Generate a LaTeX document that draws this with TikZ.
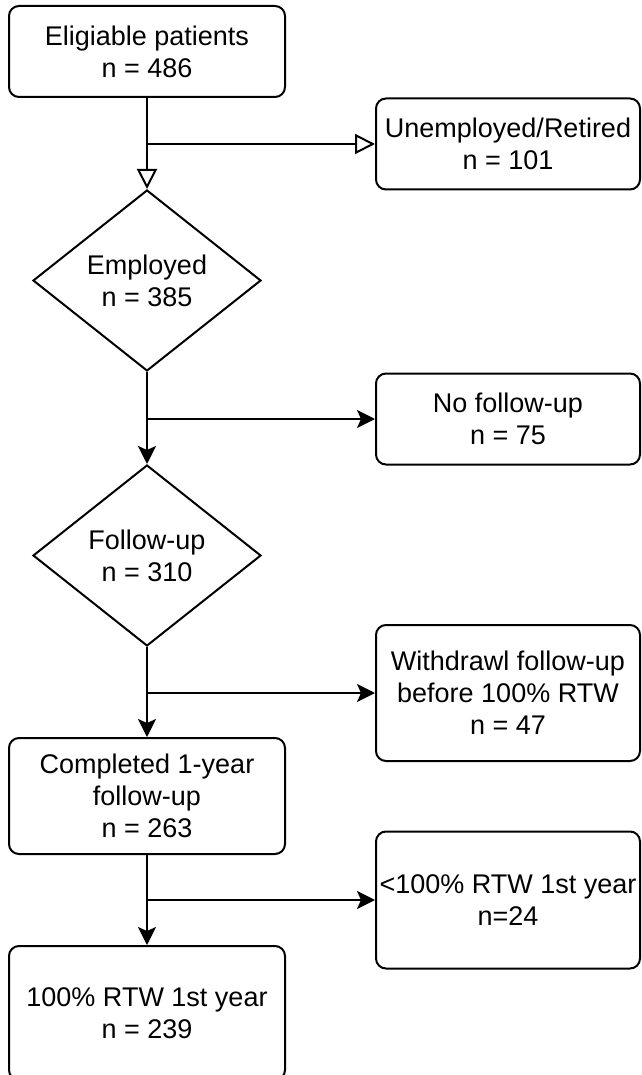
\documentclass[tikz,border=0pt]{standalone}
\usepackage{fontspec}
\setmainfont{Liberation Sans}
\usetikzlibrary{arrows.meta,positioning,shapes.geometric}

\begin{document}
\begin{tikzpicture}[
box/.style={draw,rounded corners=10pt,align=center,inner sep=1pt,line width=2pt,font=\fontsize{27}{32}\selectfont},
decision/.style={draw,diamond,aspect=1.26,inner sep=0pt,minimum width=228pt,minimum height=181pt,align=center,line width=2pt,font=\fontsize{27}{32}\selectfont},
arrow/.style={-{Stealth[length=18pt,width=18pt,inset=4pt]},line width=2pt},
openarrow/.style={-{Triangle[open,length=20pt,width=20pt]},line width=2pt}
]
\useasboundingbox (0,0) rectangle (641pt,-1075pt);
\node[box,minimum width=276pt,minimum height=91pt] (elig) at (147pt,-51.5pt) {Eligiable patients\\n = 486};
\coordinate[below=46pt of elig] (j1);
\node[decision,below=91pt of elig] (employed) {Employed\\n = 385};
\coordinate[below=47pt of employed] (j2);
\node[decision,below=92pt of employed] (follow) {Follow-up\\n = 310};
\coordinate[below=46pt of follow] (j3);
\node[box,minimum width=276pt,minimum height=116pt,below=90pt of follow] (completed) {Completed 1-year\\follow-up\\n = 263};
\coordinate[below=45pt of completed] (j4);
\node[box,minimum width=276pt,minimum height=134pt,below=90pt of completed] (rtw) {100\% RTW 1st year\\n = 239};
\node[box,minimum width=264pt,minimum height=91pt,right=228pt of j1] (unemp) {Unemployed/Retired\\n = 101};
\node[box,minimum width=264pt,minimum height=91pt,right=228pt of j2] (nofollow) {No follow-up\\n = 75};
\node[box,minimum width=264pt,minimum height=136pt,right=228pt of j3] (withdrawl) {Withdrawl follow-up\\before 100\% RTW\\n = 47};
\node[box,minimum width=264pt,minimum height=137pt,right=228pt of j4] (lessrtw) {<100\% RTW 1st year\\n=24};
\draw[openarrow] (elig) -- (employed);
\draw[openarrow] (j1) -- (unemp);
\draw[arrow] (employed) -- (follow);
\draw[arrow] (j2) -- (nofollow);
\draw[arrow] (follow) -- (completed);
\draw[arrow] (j3) -- (withdrawl);
\draw[arrow] (completed) -- (rtw);
\draw[arrow] (j4) -- (lessrtw);
\end{tikzpicture}
\end{document}
